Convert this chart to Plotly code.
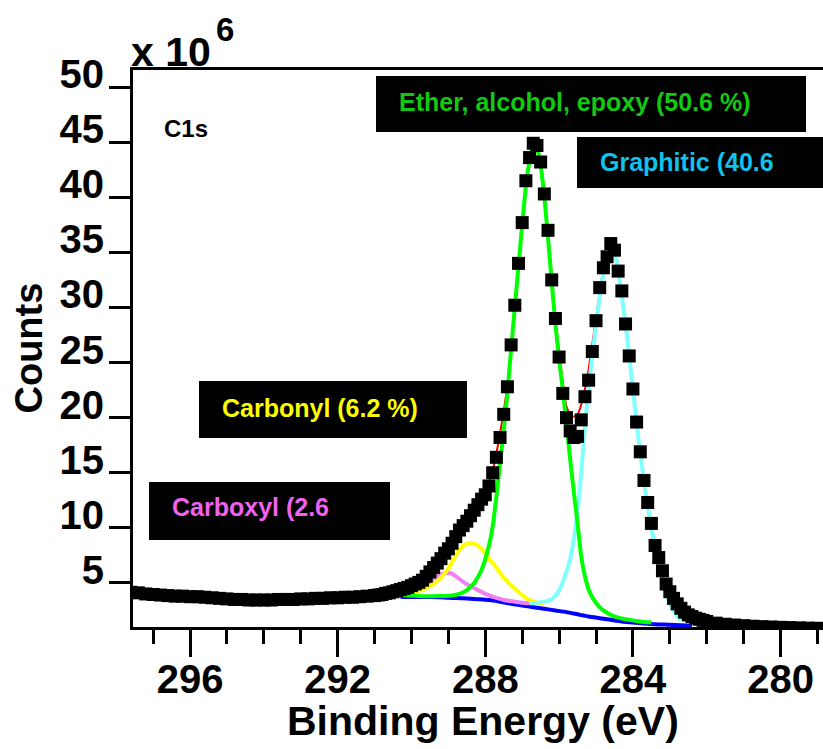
import plotly.graph_objects as go

# ---------------- data (binding energy in eV, counts in units of 1e6) ----------------
be_exp = [297.6, 297.4, 297.2, 297.0, 296.8, 296.6, 296.4, 296.2, 296.0, 295.8, 295.6, 295.4,
          295.2, 295.0, 294.8, 294.6, 294.4, 294.2, 294.0, 293.8, 293.6, 293.4, 293.2, 293.0,
          292.8, 292.6, 292.4, 292.2, 292.0, 291.8, 291.6, 291.4, 291.2,
          291.0, 290.9, 290.8, 290.7, 290.6, 290.5, 290.4, 290.3, 290.2, 290.1,
          290.0, 289.9, 289.8, 289.7, 289.6, 289.5, 289.4, 289.3, 289.2, 289.1,
          289.0, 288.9, 288.8, 288.7, 288.6, 288.5, 288.4, 288.3, 288.2, 288.1,
          288.0, 287.9, 287.8, 287.7, 287.6, 287.5, 287.4, 287.3, 287.2, 287.1,
          287.0, 286.9, 286.8, 286.7, 286.6, 286.5, 286.4, 286.3, 286.2, 286.1,
          286.0, 285.9, 285.8, 285.7, 285.6, 285.5, 285.4, 285.3, 285.2, 285.1,
          285.0, 284.9, 284.8, 284.7, 284.6, 284.5, 284.4, 284.3, 284.2, 284.1,
          284.0, 283.9, 283.8, 283.7, 283.6, 283.5, 283.4, 283.3, 283.2, 283.1,
          283.0, 282.9, 282.8, 282.7, 282.6, 282.5, 282.4, 282.3, 282.2, 282.1,
          282.0, 281.75, 281.5, 281.25, 281.0, 280.75, 280.5, 280.25, 280.0,
          279.75, 279.5, 279.25, 279.0, 278.8]
counts_exp = [4.15, 4.1, 4.0, 3.95, 3.9, 3.85, 3.8, 3.8, 3.75, 3.75, 3.7, 3.65,
              3.6, 3.55, 3.5, 3.5, 3.45, 3.45, 3.45, 3.45, 3.5, 3.5, 3.5, 3.55,
              3.55, 3.6, 3.6, 3.65, 3.65, 3.7, 3.7, 3.75, 3.8,
              3.85, 3.9, 3.95, 4.05, 4.1, 4.2, 4.3, 4.4, 4.5, 4.6,
              4.75, 4.9, 5.05, 5.25, 5.6, 6.0, 6.4, 6.8, 7.2, 7.7,
              8.1, 8.6, 9.2, 9.8, 10.2, 10.6, 11.1, 11.6, 12.1, 12.6,
              13.0, 13.8, 15.0, 16.4, 18.2, 20.3, 22.8, 26.6, 30.2, 34.0,
              37.7, 41.5, 43.6, 44.9, 44.7, 43.2, 40.3, 37.0, 32.5, 29.0,
              25.5, 22.2, 20.0, 18.8, 18.2, 18.3, 19.8, 21.9, 23.4, 26.0,
              28.8, 31.8, 33.6, 34.6, 35.8, 35.2, 33.3, 31.5, 28.5, 25.6,
              22.6, 19.6, 16.9, 14.3, 12.3, 10.4, 8.4, 7.3, 6.1, 4.9,
              4.2, 3.6, 3.1, 2.7, 2.35, 2.1, 1.95, 1.8, 1.7, 1.6,
              1.5, 1.35, 1.25, 1.18, 1.12, 1.07, 1.03, 1.0, 0.97,
              0.95, 0.92, 0.9, 0.88, 0.87]

be_env = [290.4, 290.0, 289.6, 289.2, 288.9, 288.6, 288.3, 288.0, 287.8, 287.6, 287.4, 287.2,
          287.0, 286.8, 286.7, 286.6, 286.5, 286.3, 286.1, 285.9, 285.8, 285.7, 285.6, 285.5,
          285.4, 285.3, 285.2, 285.0, 284.8, 284.6, 284.5, 284.3, 284.1, 283.9, 283.7, 283.5,
          283.3, 283.1, 282.9, 282.7, 282.5]
counts_env = [3.95, 4.2, 4.95, 6.8, 8.5, 10.0, 11.5, 13.2, 15.2, 18.6, 23.0, 30.4,
              37.8, 43.6, 44.7, 44.6, 43.1, 36.9, 29.0, 23.2, 21.0, 20.3, 20.1, 20.3,
              21.2, 22.6, 24.4, 29.0, 33.4, 35.6, 35.3, 31.2, 25.7, 19.6, 14.3, 10.2,
              6.9, 4.3, 2.9, 2.1, 1.7]

be_ether = [290.3, 290.0, 289.7, 289.4, 289.1, 288.9, 288.7, 288.5, 288.3, 288.1, 287.9, 287.8,
            287.7, 287.6, 287.5, 287.4, 287.3, 287.2, 287.1, 287.0, 286.9, 286.8, 286.7, 286.6,
            286.5, 286.4, 286.3, 286.2, 286.1, 286.0, 285.9, 285.8, 285.7, 285.6, 285.5, 285.4,
            285.3, 285.2, 285.1, 285.0, 284.9, 284.8, 284.6, 284.4, 284.2, 284.0, 283.8, 283.5]
counts_ether = [3.9, 3.85, 3.8, 3.8, 3.82, 3.85, 4.0, 4.35, 5.0, 6.2, 8.4, 10.1,
                12.8, 15.8, 18.8, 22.3, 26.2, 30.0, 33.8, 37.5, 41.0, 43.3, 44.5, 44.4,
                42.9, 40.0, 36.3, 32.3, 28.5, 25.3, 22.5, 19.4, 16.2, 13.2, 10.4, 7.4,
                5.6, 4.4, 3.7, 3.2, 2.8, 2.5, 2.1, 1.85, 1.7, 1.6, 1.5, 1.4]

be_graph = [286.8, 286.6, 286.4, 286.2, 286.0, 285.9, 285.8, 285.7, 285.6, 285.5, 285.4, 285.3,
            285.2, 285.1, 285.0, 284.9, 284.8, 284.7, 284.6, 284.5, 284.4, 284.3, 284.2, 284.1,
            284.0, 283.9, 283.8, 283.7, 283.6, 283.5, 283.4, 283.3, 283.2, 283.1, 283.0, 282.9,
            282.8, 282.7]
counts_graph = [3.15, 3.2, 3.3, 3.5, 4.3, 5.1, 6.0, 7.2, 9.0, 11.5, 15.0, 19.3,
                22.6, 25.6, 28.4, 31.0, 33.1, 34.5, 35.5, 35.2, 33.3, 31.0, 28.5, 25.6,
                22.6, 19.5, 16.7, 14.2, 12.0, 10.0, 8.2, 6.6, 5.2, 4.0, 3.1, 2.5,
                2.0, 1.6]

be_carbonyl = [290.3, 290.0, 289.8, 289.6, 289.4, 289.2, 289.0, 288.9, 288.8, 288.7, 288.6, 288.5,
               288.4, 288.3, 288.2, 288.1, 288.0, 287.9, 287.8, 287.7, 287.6, 287.4, 287.2, 287.0,
               286.8, 286.6, 286.4]
counts_carbonyl = [3.9, 4.05, 4.25, 4.55, 4.9, 5.5, 6.3, 6.9, 7.5, 8.0, 8.35, 8.55,
                   8.6, 8.55, 8.4, 8.1, 7.7, 7.2, 6.8, 6.4, 5.9, 5.1, 4.5, 3.9,
                   3.45, 3.2, 3.1]

be_carboxyl = [290.4, 290.1, 289.8, 289.6, 289.4, 289.2, 289.0, 288.9, 288.8, 288.6, 288.4, 288.2,
               288.0, 287.8, 287.5, 287.2, 287.0, 286.8]
counts_carboxyl = [3.95, 4.1, 4.4, 4.8, 5.4, 5.8, 5.9, 5.85, 5.6, 5.1, 4.7, 4.35,
                   4.0, 3.75, 3.45, 3.3, 3.2, 3.15]

be_bg = [290.3, 290.0, 289.5, 289.2, 289.0, 288.6, 288.2, 287.9, 287.6, 287.3, 287.0, 286.7,
         286.4, 286.1, 285.8, 285.5, 285.2, 284.9, 284.6, 284.3, 284.0, 283.7, 283.4, 283.0,
         282.7, 282.4]
counts_bg = [3.75, 3.72, 3.72, 3.7, 3.65, 3.6, 3.52, 3.45, 3.3, 3.1, 2.95, 2.8,
             2.65, 2.5, 2.35, 2.15, 1.95, 1.8, 1.65, 1.5, 1.4, 1.32, 1.25, 1.2,
             1.15, 1.12]

labels = ["Ether, alcohol, epoxy (50.6 %)", "Graphitic (40.6", "Carbonyl (6.2 %)", "Carboxyl (2.6"]
label_colors = ["#12c812", "#10c2ee", "#ffff00", "#f062f0"]

# ---------------- figure ----------------
FONT = "Liberation Sans, Arial, sans-serif"
L, R, T, B = 133, 823, 70, 627


def px(x):
    return (x - L) / (R - L)


def py(y):
    return (B - y) / (B - T)


fig = go.Figure()
fig.add_trace(go.Scatter(x=be_env, y=counts_env, mode="lines", line=dict(color="#ff0000", width=2, shape="spline", smoothing=0.6), name="Envelope"))
fig.add_trace(go.Scatter(x=be_bg, y=counts_bg, mode="lines", line=dict(color="#0000ff", width=4, shape="spline", smoothing=0.6), name="Background"))
fig.add_trace(go.Scatter(x=be_carboxyl, y=counts_carboxyl, mode="lines", line=dict(color="#f080f0", width=4, shape="spline", smoothing=0.6), name="Carboxyl"))
fig.add_trace(go.Scatter(x=be_carbonyl, y=counts_carbonyl, mode="lines", line=dict(color="#ffff00", width=4, shape="spline", smoothing=0.6), name="Carbonyl"))
fig.add_trace(go.Scatter(x=be_graph, y=counts_graph, mode="lines", line=dict(color="#80ffff", width=4, shape="spline", smoothing=0.6), name="Graphitic"))
fig.add_trace(go.Scatter(x=be_ether, y=counts_ether, mode="lines", line=dict(color="#00ff00", width=4, shape="spline", smoothing=0.6), name="Ether"))
fig.add_trace(go.Scatter(x=be_exp, y=counts_exp, mode="markers", marker=dict(symbol="square", size=13, color="black", line=dict(width=0)), name="Data"))

boxes = [(376, 806, 76, 132), (577, 860, 137, 188), (199, 467, 381, 438), (149, 390, 482, 540)]
text_pos = [(397, 102), (598, 162), (220, 408), (170, 507)]
for (x0, x1, y0, y1) in boxes:
    fig.add_shape(type="rect", xref="paper", yref="paper", x0=px(x0), x1=px(x1), y0=py(y1), y1=py(y0),
                  fillcolor="black", line=dict(width=0), layer="above")

annotations = []
for txt, col, (tx, ty) in zip(labels, label_colors, text_pos):
    annotations.append(dict(text="<b>" + txt + "</b>", x=px(tx), y=py(ty), xref="paper", yref="paper",
                            xanchor="left", yanchor="middle", showarrow=False,
                            font=dict(family=FONT, size=25, color=col)))
annotations += [
    dict(text="<b>x 10</b>", x=px(129), y=py(52), xref="paper", yref="paper", xanchor="left", yanchor="middle",
         showarrow=False, font=dict(family=FONT, size=41, color="black")),
    dict(text="<b>6</b>", x=px(214), y=py(30), xref="paper", yref="paper", xanchor="left", yanchor="middle",
         showarrow=False, font=dict(family=FONT, size=33, color="black")),
    dict(text="<b>C1s</b>", x=px(162), y=py(128.5), xref="paper", yref="paper", xanchor="left", yanchor="middle",
         showarrow=False, font=dict(family=FONT, size=24, color="black")),
    dict(text="<b>Counts</b>", x=px(28.5), y=py(348), xref="paper", yref="paper", xanchor="center", yanchor="middle",
         textangle=-90, showarrow=False, font=dict(family=FONT, size=38, color="black")),
    dict(text="<b>Binding Energy (eV)</b>", x=px(483), y=py(721), xref="paper", yref="paper", xanchor="center",
         yanchor="middle", showarrow=False, font=dict(family=FONT, size=41, color="black")),
]

fig.update_layout(
    width=823, height=749,
    margin=dict(l=L, r=823 - R, t=T, b=749 - B, pad=0),
    paper_bgcolor="white", plot_bgcolor="white",
    showlegend=False,
    annotations=annotations,
    xaxis=dict(range=[297.545, 278.85], showline=True, linewidth=3, linecolor="black", mirror=True,
               ticks="outside", ticklen=27, tickwidth=3, tickcolor="black",
               tickmode="linear", tick0=280, dtick=4, ticklabelstandoff=-12,
               minor=dict(dtick=1, tick0=280, ticks="outside", ticklen=14, tickwidth=3, tickcolor="black", showgrid=False),
               tickfont=dict(family=FONT, size=40, color="black", weight="bold"),
               showgrid=False, zeroline=False),
    yaxis=dict(range=[1.0, 51.55], showline=True, linewidth=3, linecolor="black", mirror=False,
               ticks="outside", ticklen=21, tickwidth=3, tickcolor="black",
               tickmode="linear", tick0=0, dtick=5, ticklabelshift=-13, ticklabelstandoff=-3,
               tickfont=dict(family=FONT, size=40, color="black", weight="bold"),
               showgrid=False, zeroline=False),
)

fig.write_html("out.html", config={"displayModeBar": False},
               post_script="document.body.style.margin='0px';document.body.style.overflow='hidden';")
